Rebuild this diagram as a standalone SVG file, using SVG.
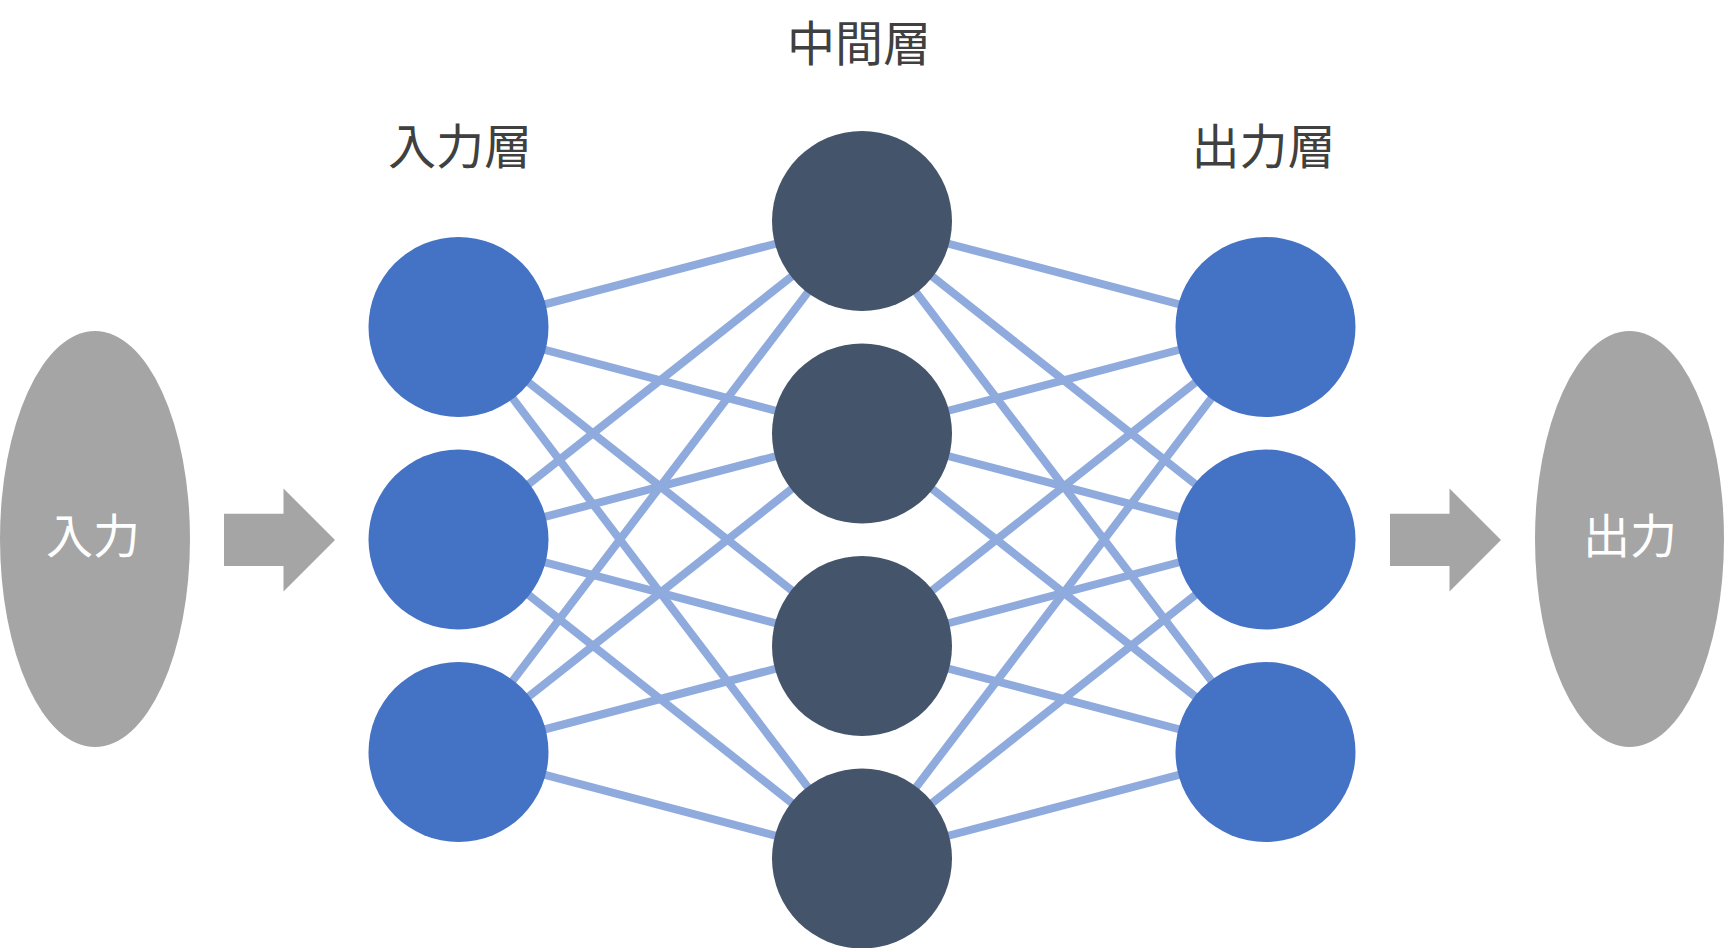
<svg xmlns="http://www.w3.org/2000/svg" width="1724" height="948" viewBox="0 0 1724 948">
<style>
.edge{stroke:#8FAADC;stroke-width:8;fill:none}
.in{fill:#4472C4}
.mid{fill:#44546A}
.out{fill:#4472C4}
.gray{fill:#A5A5A5}
.title{font-family:"Noto Sans CJK JP","Noto Sans CJK SC",sans-serif;font-size:48px;fill:#404040;text-anchor:middle}
.inner{font-family:"Noto Sans CJK JP","Noto Sans CJK SC",sans-serif;font-size:47px;fill:#FFFFFF;text-anchor:middle}
</style>
<rect width="1724" height="948" fill="#FFFFFF"/>
<g id="connectors">
<line class="edge" x1="458.5" y1="327" x2="862" y2="221"/>
<line class="edge" x1="458.5" y1="327" x2="862" y2="433.5"/>
<line class="edge" x1="458.5" y1="327" x2="862" y2="646"/>
<line class="edge" x1="458.5" y1="327" x2="862" y2="858.5"/>
<line class="edge" x1="458.5" y1="539.5" x2="862" y2="221"/>
<line class="edge" x1="458.5" y1="539.5" x2="862" y2="433.5"/>
<line class="edge" x1="458.5" y1="539.5" x2="862" y2="646"/>
<line class="edge" x1="458.5" y1="539.5" x2="862" y2="858.5"/>
<line class="edge" x1="458.5" y1="752" x2="862" y2="221"/>
<line class="edge" x1="458.5" y1="752" x2="862" y2="433.5"/>
<line class="edge" x1="458.5" y1="752" x2="862" y2="646"/>
<line class="edge" x1="458.5" y1="752" x2="862" y2="858.5"/>
<line class="edge" x1="1265.5" y1="327" x2="862" y2="221"/>
<line class="edge" x1="1265.5" y1="327" x2="862" y2="433.5"/>
<line class="edge" x1="1265.5" y1="327" x2="862" y2="646"/>
<line class="edge" x1="1265.5" y1="327" x2="862" y2="858.5"/>
<line class="edge" x1="1265.5" y1="539.5" x2="862" y2="221"/>
<line class="edge" x1="1265.5" y1="539.5" x2="862" y2="433.5"/>
<line class="edge" x1="1265.5" y1="539.5" x2="862" y2="646"/>
<line class="edge" x1="1265.5" y1="539.5" x2="862" y2="858.5"/>
<line class="edge" x1="1265.5" y1="752" x2="862" y2="221"/>
<line class="edge" x1="1265.5" y1="752" x2="862" y2="433.5"/>
<line class="edge" x1="1265.5" y1="752" x2="862" y2="646"/>
<line class="edge" x1="1265.5" y1="752" x2="862" y2="858.5"/>
</g>
<g id="arrow-in"><polygon class="gray" points="224,513.7 283.5,513.7 283.5,488.5 335,540 283.5,591.5 283.5,566 224,566"/></g>
<g id="arrow-out"><polygon class="gray" points="1390,513.7 1449.5,513.7 1449.5,488.5 1501,540 1449.5,591.5 1449.5,566 1390,566"/></g>
<g id="input"><ellipse class="gray" cx="95" cy="539" rx="95" ry="208"/><text class="inner" x="93" y="553">入力</text></g>
<g id="output"><ellipse class="gray" cx="1629.5" cy="539" rx="94.5" ry="208"/><text class="inner" x="1630" y="553">出力</text></g>
<g id="in1"><circle class="in" cx="458.5" cy="327" r="90"/></g>
<g id="in2"><circle class="in" cx="458.5" cy="539.5" r="90"/></g>
<g id="in3"><circle class="in" cx="458.5" cy="752" r="90"/></g>
<g id="mid1"><circle class="mid" cx="862" cy="221" r="90"/></g>
<g id="mid2"><circle class="mid" cx="862" cy="433.5" r="90"/></g>
<g id="mid3"><circle class="mid" cx="862" cy="646" r="90"/></g>
<g id="mid4"><circle class="mid" cx="862" cy="858.5" r="90"/></g>
<g id="out1"><circle class="out" cx="1265.5" cy="327" r="90"/></g>
<g id="out2"><circle class="out" cx="1265.5" cy="539.5" r="90"/></g>
<g id="out3"><circle class="out" cx="1265.5" cy="752" r="90"/></g>
<g id="labels">
<text class="title" x="859" y="61">中間層</text>
<text class="title" x="460" y="164">入力層</text>
<text class="title" x="1263.5" y="164">出力層</text>
</g>
</svg>
